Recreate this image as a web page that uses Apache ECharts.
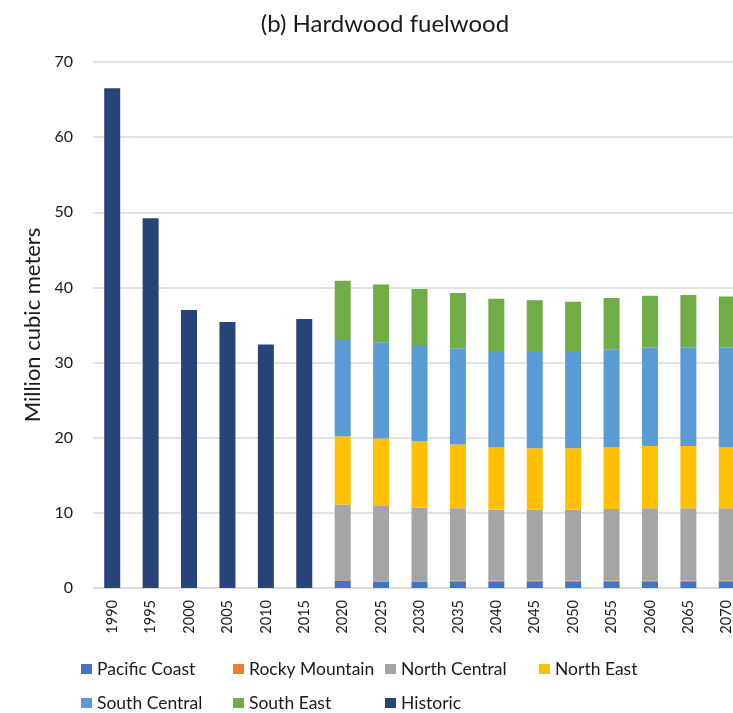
<!DOCTYPE html>
<html>
<head>
<meta charset="utf-8">
<script src="https://cdn.jsdelivr.net/npm/echarts@6/dist/echarts.min.js"></script>
<style>
  html, body { margin: 0; padding: 0; background: #fff; overflow: hidden; }
  /* the plot runs past the right edge of the window, so the canvas is a little wider */
  #chart { width: 746px; height: 713px; }
</style>
</head>
<body>
<div id="chart"></div>
<script>
// Hardwood fuelwood consumption, million cubic meters
const years = ['1990','1995','2000','2005','2010','2015','2020','2025','2030','2035','2040','2045','2050','2055','2060','2065','2070'];
const historic      = [66.5, 49.2, 37.0, 35.4, 32.4, 35.8, null, null, null, null, null, null, null, null, null, null, null];
const pacificCoast  = [null, null, null, null, null, null, 1.0, 0.8, 0.8, 0.8, 0.8, 0.8, 0.8, 0.8, 0.8, 0.8, 0.8];
const rockyMountain = [null, null, null, null, null, null, 0.05, 0.1, 0.1, 0.2, 0.2, 0.2, 0.2, 0.2, 0.2, 0.2, 0.2];
const northCentral  = [null, null, null, null, null, null, 10.05, 10.0, 9.8, 9.6, 9.4, 9.4, 9.4, 9.5, 9.6, 9.6, 9.6];
const northEast     = [null, null, null, null, null, null, 9.1, 9.0, 8.8, 8.5, 8.3, 8.2, 8.2, 8.2, 8.3, 8.3, 8.1];
const southCentral  = [null, null, null, null, null, null, 12.8, 12.8, 12.7, 12.8, 12.7, 12.8, 12.8, 13.0, 13.1, 13.15, 13.3];
const southEast     = [null, null, null, null, null, null, 7.9, 7.7, 7.6, 7.35, 7.1, 6.9, 6.7, 6.9, 6.9, 6.95, 6.8];
const yTicks = { min: 0, max: 70, step: 10 };

const FONT = 'Lato';
const seriesDefs = [
  { name: 'Pacific Coast',  data: pacificCoast,  color: '#4472C4' },
  { name: 'Rocky Mountain', data: rockyMountain, color: '#ED7D31' },
  { name: 'North Central',  data: northCentral,  color: '#A5A5A5' },
  { name: 'North East',     data: northEast,     color: '#FFC000' },
  { name: 'South Central',  data: southCentral,  color: '#5B9BD5' },
  { name: 'South East',     data: southEast,     color: '#70AD47' },
  { name: 'Historic',       data: historic,      color: '#264478' }
];

// Legend laid out as a fixed grid of columns
const legendPos = [
  [81, 660], [233, 660], [385, 660], [539, 660],
  [81, 694], [233, 694], [385, 694]
];
const legends = seriesDefs.map((s, i) => ({
  data: [s.name],
  left: legendPos[i][0],
  top: legendPos[i][1],
  icon: 'rect',
  itemWidth: 11,
  itemHeight: 10,
  itemGap: 0,
  padding: 0,
  textStyle: { fontFamily: FONT, fontSize: 17.5, color: '#1a1a1a', padding: [0, 0, 0, 0] }
}));

const chart = echarts.init(document.getElementById('chart'), null, { renderer: 'canvas' });
chart.setOption({
  animation: false,
  backgroundColor: '#fff',
  title: {
    text: '(b) Hardwood fuelwood',
    left: 380,
    textAlign: 'center',
    top: 7,
    textStyle: { fontFamily: FONT, fontSize: 24, fontWeight: 'normal', color: '#1a1a1a' }
  },
  legend: legends,
  grid: { left: 93, top: 62, width: 653, height: 526, containLabel: false },
  xAxis: {
    type: 'category',
    data: years,
    axisLine: { lineStyle: { color: '#d9d9d9', width: 1.5 } },
    axisTick: { show: false },
    axisLabel: { rotate: 90, margin: 12, fontFamily: FONT, fontSize: 14.5, color: '#1a1a1a' }
  },
  yAxis: {
    type: 'value',
    min: yTicks.min,
    max: yTicks.max,
    interval: yTicks.step,
    name: 'Million cubic meters',
    nameLocation: 'middle',
    nameGap: 47,
    nameTextStyle: { fontFamily: FONT, fontSize: 22, color: '#1a1a1a' },
    axisLine: { show: false },
    axisTick: { show: false },
    axisLabel: { margin: 20, fontFamily: FONT, fontSize: 16, color: '#1a1a1a' },
    splitLine: { lineStyle: { color: '#d9d9d9', width: 1.5 } }
  },
  series: seriesDefs.map(s => ({
    name: s.name,
    type: 'bar',
    stack: 'total',
    data: s.data,
    barWidth: 16,
    itemStyle: { color: s.color },
    emphasis: { disabled: true }
  }))
});
</script>
</body>
</html>
